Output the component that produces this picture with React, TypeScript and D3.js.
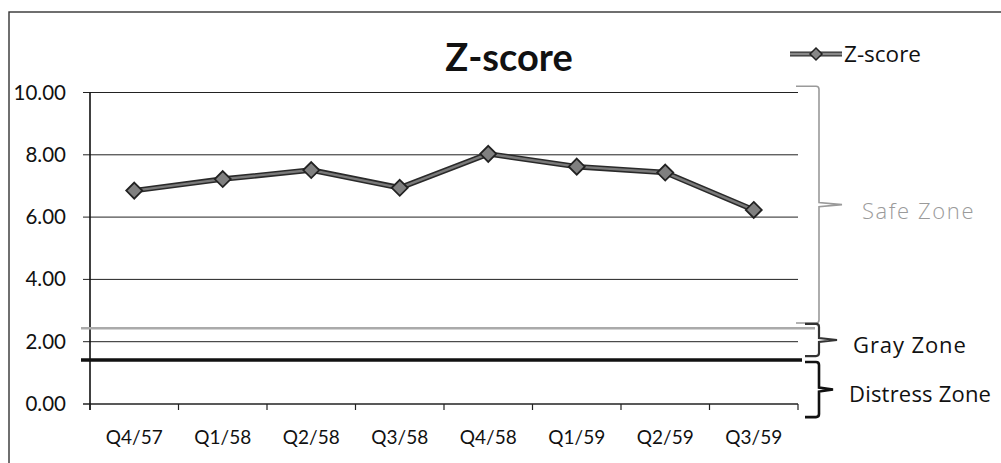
import * as d3 from 'd3'

const quarters = ['Q4/57', 'Q1/58', 'Q2/58', 'Q3/58', 'Q4/58', 'Q1/59', 'Q2/59', 'Q3/59']
const zScores = [6.85, 7.22, 7.51, 6.94, 8.03, 7.62, 7.43, 6.23]
const yTicks = [0, 2, 4, 6, 8, 10]

// hand drawn threshold lines
const grayLine = 2.43
const distressLine = 1.41

// braces: [top value, bottom value, label]
const zones: { top: number; bottom: number; label: string }[] = [
  { top: 10.2, bottom: 2.6, label: 'Safe Zone' },
  { top: 2.57, bottom: 1.54, label: 'Gray Zone' },
  { top: 1.35, bottom: -0.42, label: 'Distress Zone' },
]

const W = 1001
const H = 463
const margin = { left: 90, right: 203, top: 92.5, bottom: 59 }

export default function App() {
  const x = d3.scaleBand<string>()
    .domain(quarters)
    .range([margin.left, W - margin.right])
  const y = d3.scaleLinear()
    .domain([0, 10])
    .range([H - margin.bottom, margin.top])

  const line = d3.line<number>()
    .x((_, i) => x(quarters[i])! + x.bandwidth() / 2)
    .y((d) => y(d))

  const diamond = (cx: number, cy: number, r: number) =>
    `M${cx},${cy - r}L${cx + r},${cy}L${cx},${cy + r}L${cx - r},${cy}Z`

  const x0 = margin.left
  const x1 = W - margin.right
  const font = 'Lato, "Open Sans", sans-serif'

  const braceStyles = [
    { stroke: '#9a9a9a', width: 1.6, mid: 842, fill: '#9a9a9a', weight: 300, tx: 862, ls: 1.6, dy: 14 },
    { stroke: '#333', width: 2.2, mid: 837, fill: '#111', weight: 400, tx: 853, ls: 0.9, dy: 13 },
    { stroke: '#111', width: 2.6, mid: 833, fill: '#111', weight: 400, tx: 849, ls: 0.2, dy: 12 },
  ]

  return (
    <svg width={W} height={H} style={{ position: 'absolute', left: 0, top: 0, background: '#fff' }}>
      {/* outer frame */}
      <rect x={9} y={12} width={1100} height={600} fill="none" stroke="#333" strokeWidth={1.4} />

      <text x={509} y={71} textAnchor="middle" fontFamily={font} fontWeight={700} fontSize={38} fill="#111">
        Z-score
      </text>

      {/* legend */}
      <line x1={790} x2={842} y1={54} y2={54} stroke="#333" strokeWidth={5} />
      <line x1={790} x2={842} y1={54} y2={54} stroke="#888" strokeWidth={2.5} />
      <path d={diamond(816, 54, 6)} fill="#888" stroke="#222" strokeWidth={1.5} />
      <text x={844} y={62} fontFamily={'"Open Sans", sans-serif'} fontSize={22.5} fill="#111">Z-score</text>

      {/* grid */}
      {yTicks.map((t) => (
        <g key={t}>
          <line x1={x0 - 7} x2={x1} y1={y(t)} y2={y(t)} stroke="#222" strokeWidth={t === 0 ? 1.4 : 1} />
          <text x={66} y={y(t) + 7} textAnchor="end" fontFamily={font} fontSize={20.5} fill="#111">
            {t.toFixed(2)}
          </text>
        </g>
      ))}
      <line x1={x0} x2={x0} y1={y(10)} y2={y(0) + 6} stroke="#111" strokeWidth={1.6} />

      {/* x ticks */}
      {quarters.concat(['']).map((q, i) => {
        const px = x0 + i * x.step()
        return <line key={'t' + i} x1={px} x2={px} y1={y(0)} y2={y(0) + 6} stroke="#222" strokeWidth={1.2} />
      })}
      {quarters.map((q) => (
        <text key={q} x={x(q)! + x.bandwidth() / 2} y={444} textAnchor="middle" fontFamily={font} fontSize={19} fill="#111">
          {q}
        </text>
      ))}

      {/* threshold lines */}
      <line x1={81} x2={815} y1={y(grayLine)} y2={y(grayLine)} stroke="#aaa" strokeWidth={2.5} />
      <line x1={81} x2={802} y1={y(distressLine)} y2={y(distressLine)} stroke="#111" strokeWidth={3.5} />

      {/* series */}
      <path d={line(zScores)!} fill="none" stroke="#2a2a2a" strokeWidth={5.5} strokeLinejoin="round" />
      <path d={line(zScores)!} fill="none" stroke="#7a7a7a" strokeWidth={2.4} strokeLinejoin="round" />
      {zScores.map((v, i) => (
        <path key={i} d={diamond(x(quarters[i])! + x.bandwidth() / 2, y(v), 8)} fill="#808080" stroke="#222" strokeWidth={1.8} />
      ))}

      {/* braces */}
      {zones.map((z, i) => {
        const s = braceStyles[i]
        const t = y(z.top)
        const b = y(z.bottom)
        const m = (t + b) / 2
        const bx = 819
        const lx = i === 0 ? 796 : 805
        const d = `M${lx},${t}L${bx - 3},${t}Q${bx},${t} ${bx},${t + 3}L${bx},${m - 2}L${s.mid},${m}L${bx},${m + 2}L${bx},${b - 3}Q${bx},${b} ${bx - 3},${b}L${lx},${b}`
        return (
          <g key={z.label}>
            <path d={d} fill="none" stroke={s.stroke} strokeWidth={s.width} />
            <text x={s.tx} y={m + s.dy} fontFamily={'"Open Sans", sans-serif'} fontWeight={s.weight} fontSize={22} letterSpacing={s.ls} fill={s.fill}>
              {z.label}
            </text>
          </g>
        )
      })}
    </svg>
  )
}
